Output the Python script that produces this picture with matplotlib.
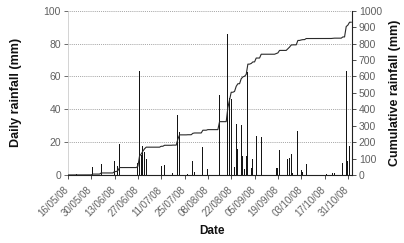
import matplotlib
matplotlib.use("Agg")
import matplotlib.pyplot as plt
import matplotlib.transforms as mtransforms
import numpy as np
import pandas as pd

plt.rcParams['font.family'] = ['Liberation Sans', 'DejaVu Sans']

# ---- data ----
rain_dates = ["2008-05-21", "2008-05-31", "2008-06-05", "2008-06-13", "2008-06-15", "2008-06-16",
              "2008-06-27", "2008-06-28", "2008-06-29", "2008-06-30", "2008-07-01", "2008-07-02",
              "2008-07-11", "2008-07-13", "2008-07-18", "2008-07-21", "2008-07-22",
              "2008-07-27", "2008-07-30", "2008-07-31", "2008-08-05", "2008-08-08",
              "2008-08-15", "2008-08-20", "2008-08-21", "2008-08-22",
              "2008-08-24", "2008-08-25", "2008-08-26", "2008-08-28", "2008-08-29", "2008-08-30",
              "2008-08-31", "2008-09-01", "2008-09-03", "2008-09-04", "2008-09-06", "2008-09-09",
              "2008-09-18", "2008-09-19", "2008-09-20", "2008-09-25", "2008-09-26", "2008-09-27",
              "2008-09-28", "2008-10-01", "2008-10-03", "2008-10-04", "2008-10-06",
              "2008-10-18", "2008-10-22", "2008-10-23", "2008-10-28", "2008-10-30", "2008-10-31",
              "2008-11-01"]
rain_mm = [0.5, 4.8, 6.9, 8.5, 5.4, 19.0,
           7.5, 63.0, 12.0, 17.6, 14.0, 10.0,
           5.5, 6.0, 1.0, 36.4, 26.0,
           0.8, 8.7, 2.0, 16.8, 3.6,
           48.5, 86.0, 47.0, 46.0,
           5.0, 31.3, 15.6, 30.3, 11.5, 3.4,
           11.5, 62.6, 4.0, 9.5, 23.6, 23.2,
           4.0, 4.0, 15.2, 9.7, 10.5, 12.7,
           1.0, 26.8, 3.0, 2.0, 6.6,
           0.3, 1.0, 1.0, 7.5, 63.2, 8.7,
           17.6]
period_start = "2008-05-16"
period_end = "2008-11-02"
tick_labels = ["16/05/08", "30/05/08", "13/06/08", "27/06/08", "11/07/08", "25/07/08",
               "08/08/08", "22/08/08", "05/09/08", "19/09/08", "03/10/08", "17/10/08", "31/10/08"]
left_ticks = [0, 20, 40, 60, 80, 100]
right_ticks = [0, 100, 200, 300, 400, 500, 600, 700, 800, 900, 1000]

# ---- derived series ----
days = pd.date_range(period_start, period_end, freq="D")
daily = pd.Series(rain_mm, index=pd.to_datetime(rain_dates)).reindex(days, fill_value=0.0)
cumulative = daily.cumsum()

fig = plt.figure(figsize=(4.04, 2.43), dpi=100)
ax = fig.add_axes([0.168, 0.280, 0.703, 0.676])
ax2 = ax.twinx()

ax.bar(pd.to_datetime(rain_dates), rain_mm, width=0.7, color="#151515", linewidth=0, zorder=3)
ax2.plot(cumulative.index, cumulative.values, color="#2a2a2a", lw=0.8, zorder=4)

x0 = pd.Timestamp(period_start)
ax.set_xlim(x0, x0 + pd.Timedelta(days=170.4))
ax.set_ylim(0, 100)
ax2.set_ylim(0, 1000)

ax.set_yticks(left_ticks)
ax2.set_yticks(right_ticks)
tick_pos = [pd.Timestamp(f"20{t[6:8]}-{t[3:5]}-{t[0:2]}") for t in tick_labels]
ax.set_xticks(tick_pos)
ax.set_xticklabels(tick_labels, rotation=45, ha="right", rotation_mode="anchor")

for y in left_ticks[1:]:
    ax.axhline(y, color="#8a8a8a", lw=0.6, ls=(0, (1, 1.3)), zorder=1)

tick_col = "#606060"
ax.tick_params(axis="x", length=3, width=0.6, color="#333333", labelsize=7, labelcolor=tick_col, pad=2)
ax.tick_params(axis="y", length=3, width=0.6, color="#555555", labelsize=7.5, labelcolor=tick_col, pad=2)
ax2.tick_params(axis="y", length=3, width=0.6, color="#333333", labelsize=7.5, labelcolor=tick_col, pad=2)

offset = mtransforms.ScaledTranslation(-4 / 100, -3 / 100, fig.dpi_scale_trans)
for lbl in ax.get_xticklabels():
    lbl.set_transform(lbl.get_transform() + offset)

for a in (ax, ax2):
    a.spines["top"].set_visible(False)
ax.spines["left"].set_color("#cccccc")
ax.spines["left"].set_linewidth(0.6)
ax.spines["bottom"].set_color("#222222")
ax.spines["bottom"].set_linewidth(0.8)
ax.spines["right"].set_visible(False)
ax2.spines["left"].set_visible(False)
ax2.spines["bottom"].set_visible(False)
ax2.spines["right"].set_color("#222222")
ax2.spines["right"].set_linewidth(0.8)

fig.text(0.040, 0.621, "Daily rainfall (mm)", rotation=90, ha="center", va="center",
         fontsize=9, fontweight="bold", color="#111111")
fig.text(0.978, 0.620, "Cumulative rainfall (mm)", rotation=90, ha="center", va="center",
         fontsize=9, fontweight="bold", color="#111111")
fig.text(0.525, 0.049, "Date", ha="center", va="center",
         fontsize=8.5, fontweight="bold", color="#111111")

fig.savefig("out.png", dpi=100)
